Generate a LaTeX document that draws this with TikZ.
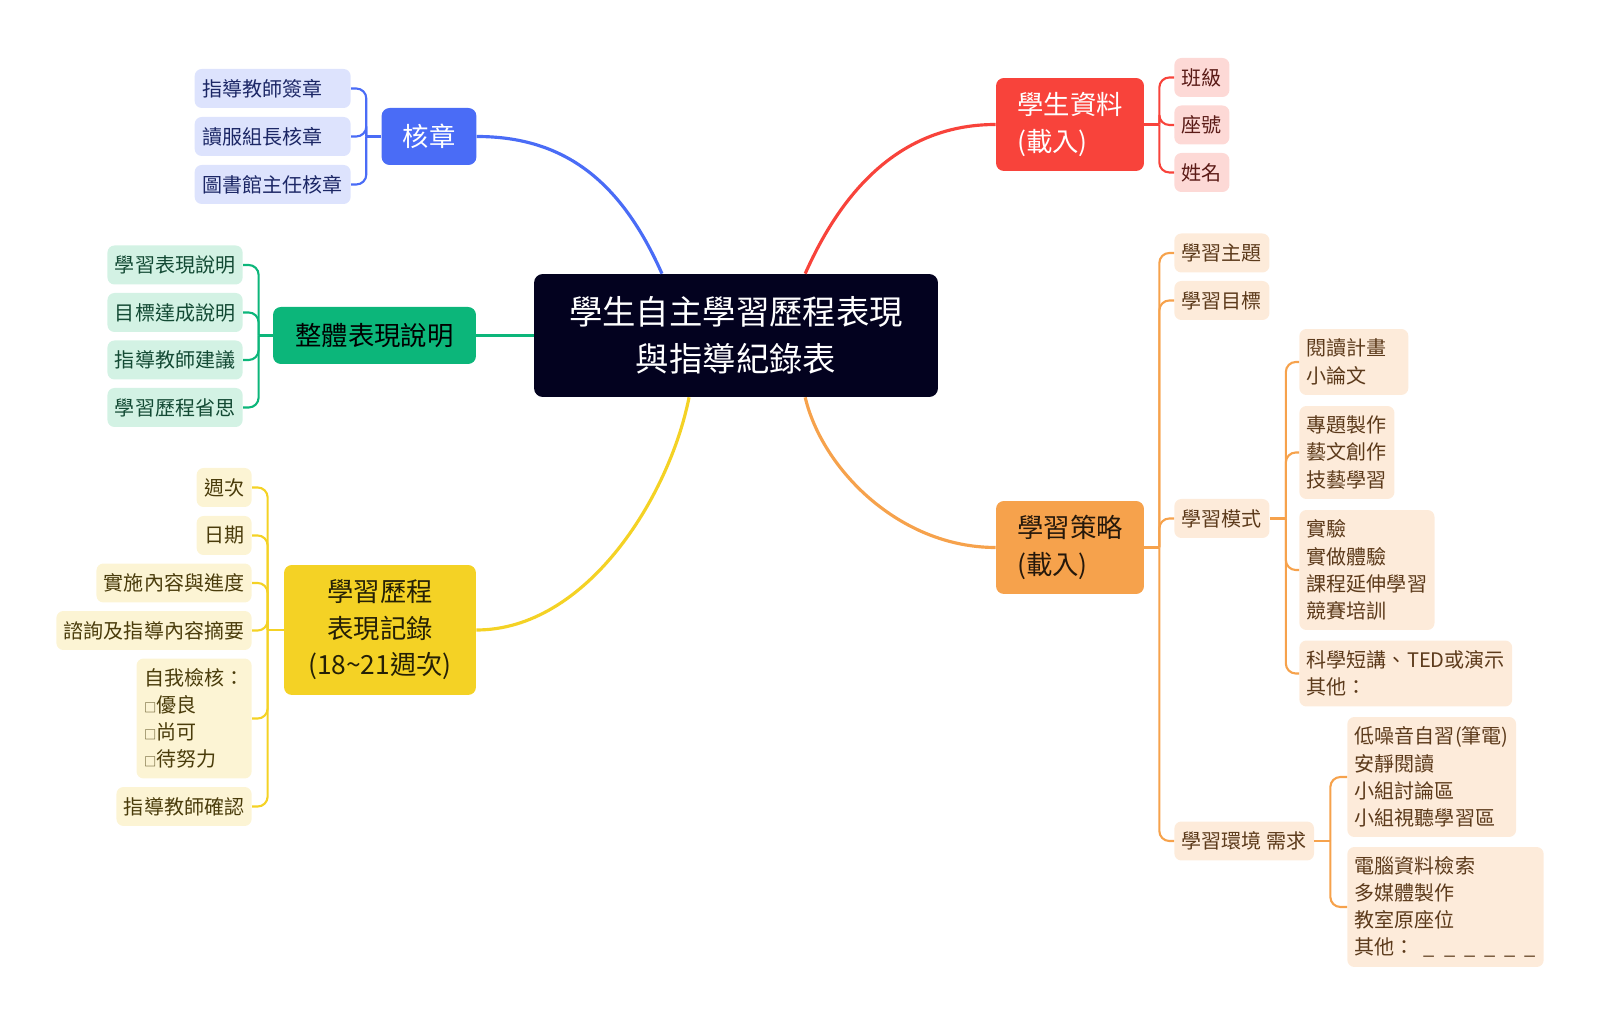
\documentclass[tikz,border=0pt]{standalone}
\usepackage{fontspec}
\setmainfont{Noto Sans CJK TC}
\usetikzlibrary{calc}
\definecolor{rootbg}{HTML}{03021F}
\definecolor{kzc}{HTML}{4A6CF6}
\definecolor{kzl}{HTML}{DDE3FD}
\definecolor{kztx}{HTML}{1C2766}
\definecolor{stuc}{HTML}{F8433B}
\definecolor{stul}{HTML}{FDD9D6}
\definecolor{stutx}{HTML}{5B1B17}
\definecolor{whc}{HTML}{0CB67A}
\definecolor{whl}{HTML}{D3F2E4}
\definecolor{whtx}{HTML}{134A34}
\definecolor{recc}{HTML}{F4D225}
\definecolor{recl}{HTML}{FCF4D4}
\definecolor{rectx}{HTML}{4A3C0B}
\definecolor{stgc}{HTML}{F6A24C}
\definecolor{stgl}{HTML}{FDEBDA}
\definecolor{stgtx}{HTML}{5C3A1B}
\newcommand{\fleaf}{\fontsize{11.4}{15.5}\selectfont}
\newcommand{\fmain}{\fontsize{15}{20.8}\selectfont}
\newcommand{\froot}{\fontsize{19}{26.6}\selectfont}
\newcommand{\chkbox}{{\fontsize{7}{7}\selectfont □}}
\newcommand{\fork}[4]{%
  \draw[#3,twig] (#1) -- (#2);
  \foreach \l in {#4}{%
    \draw[#3,twig,rounded corners=0.2cm] (#2) |- (\l);}}
\tikzset{
  twig/.style={line width=1.2pt},
  limb/.style={line width=1.8pt},
  topic/.style={rounded corners=4.5pt,inner xsep=0.42cm,inner ysep=0pt,
                minimum height=1.14cm,font=\fmain,align=left},
  leaf/.style={rounded corners=4pt,inner xsep=0.15cm,inner ysep=0pt,
               minimum height=0.78cm,font=\fleaf,align=left}
}

\begin{document}
\begin{tikzpicture}[x=0.02cm,y=-0.02cm]
  \useasboundingbox (0,0) rectangle (1600,1026);

  \node[fill=rootbg,text=white,rounded corners=5pt,minimum width=8.08cm,
        minimum height=2.46cm,align=center,font=\froot] (root) at (736,335.5)
       {學生自主學習歷程表現\\與指導紀錄表};

  \node[topic,fill=kzc,text=white,minimum width=1.88cm] (kz) at (429,136.5) {核章};
  \node[topic,fill=stuc,text=white,minimum width=2.96cm,minimum height=1.86cm]
       (stu) at (1070,124.5) {學生資料\\(載入)};
  \node[topic,fill=whc,text=black,minimum width=4.06cm] (whole) at (374.5,335.5)
       {整體表現說明};
  \node[topic,fill=recc,text=black!85!recc,align=center,minimum width=3.84cm,
        minimum height=2.6cm] (rec) at (380,630)
       {學習歷程\\表現記錄\\(18\textasciitilde21週次)};
  \node[topic,fill=stgc,text=black!85!stgc,minimum width=2.96cm,minimum height=1.86cm]
       (stg) at (1070,547.5) {學習策略\\(載入)};

  \node[leaf,fill=kzl,text=kztx,text width=2.82cm,anchor=east] (kz1) at (351,88.5) {指導教師簽章};
  \node[leaf,fill=kzl,text=kztx,text width=2.82cm,anchor=east] (kz2) at (351,136.5) {讀服組長核章};
  \node[leaf,fill=kzl,text=kztx,text width=2.82cm,anchor=east] (kz3) at (351,184.5) {圖書館主任核章};

  \node[leaf,fill=stul,text=stutx,anchor=west] (stu1) at (1174,77.5) {班級};
  \node[leaf,fill=stul,text=stutx,anchor=west] (stu2) at (1174,125) {座號};
  \node[leaf,fill=stul,text=stutx,anchor=west] (stu3) at (1174,172.5) {姓名};

  \node[leaf,fill=whl,text=whtx,anchor=east] (wh1) at (243,265) {學習表現說明};
  \node[leaf,fill=whl,text=whtx,anchor=east] (wh2) at (243,312.5) {目標達成說明};
  \node[leaf,fill=whl,text=whtx,anchor=east] (wh3) at (243,360) {指導教師建議};
  \node[leaf,fill=whl,text=whtx,anchor=east] (wh4) at (243,407.5) {學習歷程省思};

  \node[leaf,fill=recl,text=rectx,anchor=east] (rec1) at (252,487.5) {週次};
  \node[leaf,fill=recl,text=rectx,anchor=east] (rec2) at (252,535.5) {日期};
  \node[leaf,fill=recl,text=rectx,anchor=east] (rec3) at (252,583) {實施內容與進度};
  \node[leaf,fill=recl,text=rectx,anchor=east] (rec4) at (252,630.5) {諮詢及指導內容摘要};
  \node[leaf,fill=recl,text=rectx,anchor=east,minimum height=2.4cm] (rec5) at (252,718.5)
       {自我檢核：\\\chkbox{}優良\\\chkbox{}尚可\\\chkbox{}待努力};
  \node[leaf,fill=recl,text=rectx,anchor=east] (rec6) at (252,806.5) {指導教師確認};

  \node[leaf,fill=stgl,text=stgtx,anchor=west] (stg1) at (1174,253) {學習主題};
  \node[leaf,fill=stgl,text=stgtx,anchor=west] (stg2) at (1174,300.5) {學習目標};
  \node[leaf,fill=stgl,text=stgtx,anchor=west] (mode) at (1174,518.5) {學習模式};
  \node[leaf,fill=stgl,text=stgtx,anchor=west] (env) at (1174,841) {學習環境 需求};

  \node[leaf,fill=stgl,text=stgtx,anchor=west,text width=1.88cm,minimum height=1.32cm]
       (mode1) at (1299,362) {閱讀計畫\\小論文};
  \node[leaf,fill=stgl,text=stgtx,anchor=west,minimum height=1.86cm] (mode2) at (1299,452.5)
       {專題製作\\藝文創作\\技藝學習};
  \node[leaf,fill=stgl,text=stgtx,anchor=west,minimum height=2.4cm] (mode3) at (1299,570)
       {實驗\\實做體驗\\課程延伸學習\\競賽培訓};
  \node[leaf,fill=stgl,text=stgtx,anchor=west,minimum height=1.32cm] (mode4) at (1299,673.5)
       {科學短講、TED或演示\\其他：};

  \node[leaf,fill=stgl,text=stgtx,anchor=west,minimum height=2.4cm] (env1) at (1347,777)
       {低噪音自習(筆電)\\安靜閱讀\\小組討論區\\小組視聽學習區};
  \node[leaf,fill=stgl,text=stgtx,anchor=west,minimum height=2.4cm] (env2) at (1347,907)
       {電腦資料檢索\\多媒體製作\\教室原座位\\其他：\hspace{0.45em}\_\hspace{0.45em}\_\hspace{0.45em}\_\hspace{0.45em}\_\hspace{0.45em}\_\hspace{0.45em}\_};

  \draw[kzc,limb] (kz.east) .. controls +(90,0) and +(-40,-90) ..
        ($(root.north west)!0.317!(root.north east)$);
  \draw[stuc,limb] ($(root.north west)!0.671!(root.north east)$)
        .. controls +(40,-90) and +(-90,0) .. (stu.west);
  \draw[whc,limb] (root.west) -- (whole.east);
  \draw[recc,limb] ($(root.south west)!0.384!(root.south east)$)
        .. controls +(-20,100) and +(110,0) .. (rec.east);
  \draw[stgc,limb] ($(root.south west)!0.671!(root.south east)$)
        .. controls +(17,72) and +(-96,0) .. (stg.west);

  \coordinate (kzj) at ($(kz.west)+(-15,0)$);
  \coordinate (stuj) at ($(stu.east)+(15,0)$);
  \coordinate (whj) at ($(whole.west)+(-14,0)$);
  \coordinate (recj) at ($(rec.west)+(-16,0)$);
  \coordinate (stgj) at ($(stg.east)+(15,0)$);
  \coordinate (modej) at ($(mode.east)+(16,0)$);
  \coordinate (envj) at ($(env.east)+(16,0)$);

  \fork{kz.west}{kzj}{kzc}{kz1.east,kz2.east,kz3.east}
  \fork{stu.east}{stuj}{stuc}{stu1.west,stu2.west,stu3.west}
  \fork{whole.west}{whj}{whc}{wh1.east,wh2.east,wh3.east,wh4.east}
  \fork{rec.west}{recj}{recc}{rec1.east,rec2.east,rec3.east,rec4.east,rec5.east,rec6.east}
  \fork{stg.east}{stgj}{stgc}{stg1.west,stg2.west,mode.west,env.west}
  \fork{mode.east}{modej}{stgc}{mode1.west,mode2.west,mode3.west,mode4.west}
  \fork{env.east}{envj}{stgc}{env1.west,env2.west}
\end{tikzpicture}
\end{document}
